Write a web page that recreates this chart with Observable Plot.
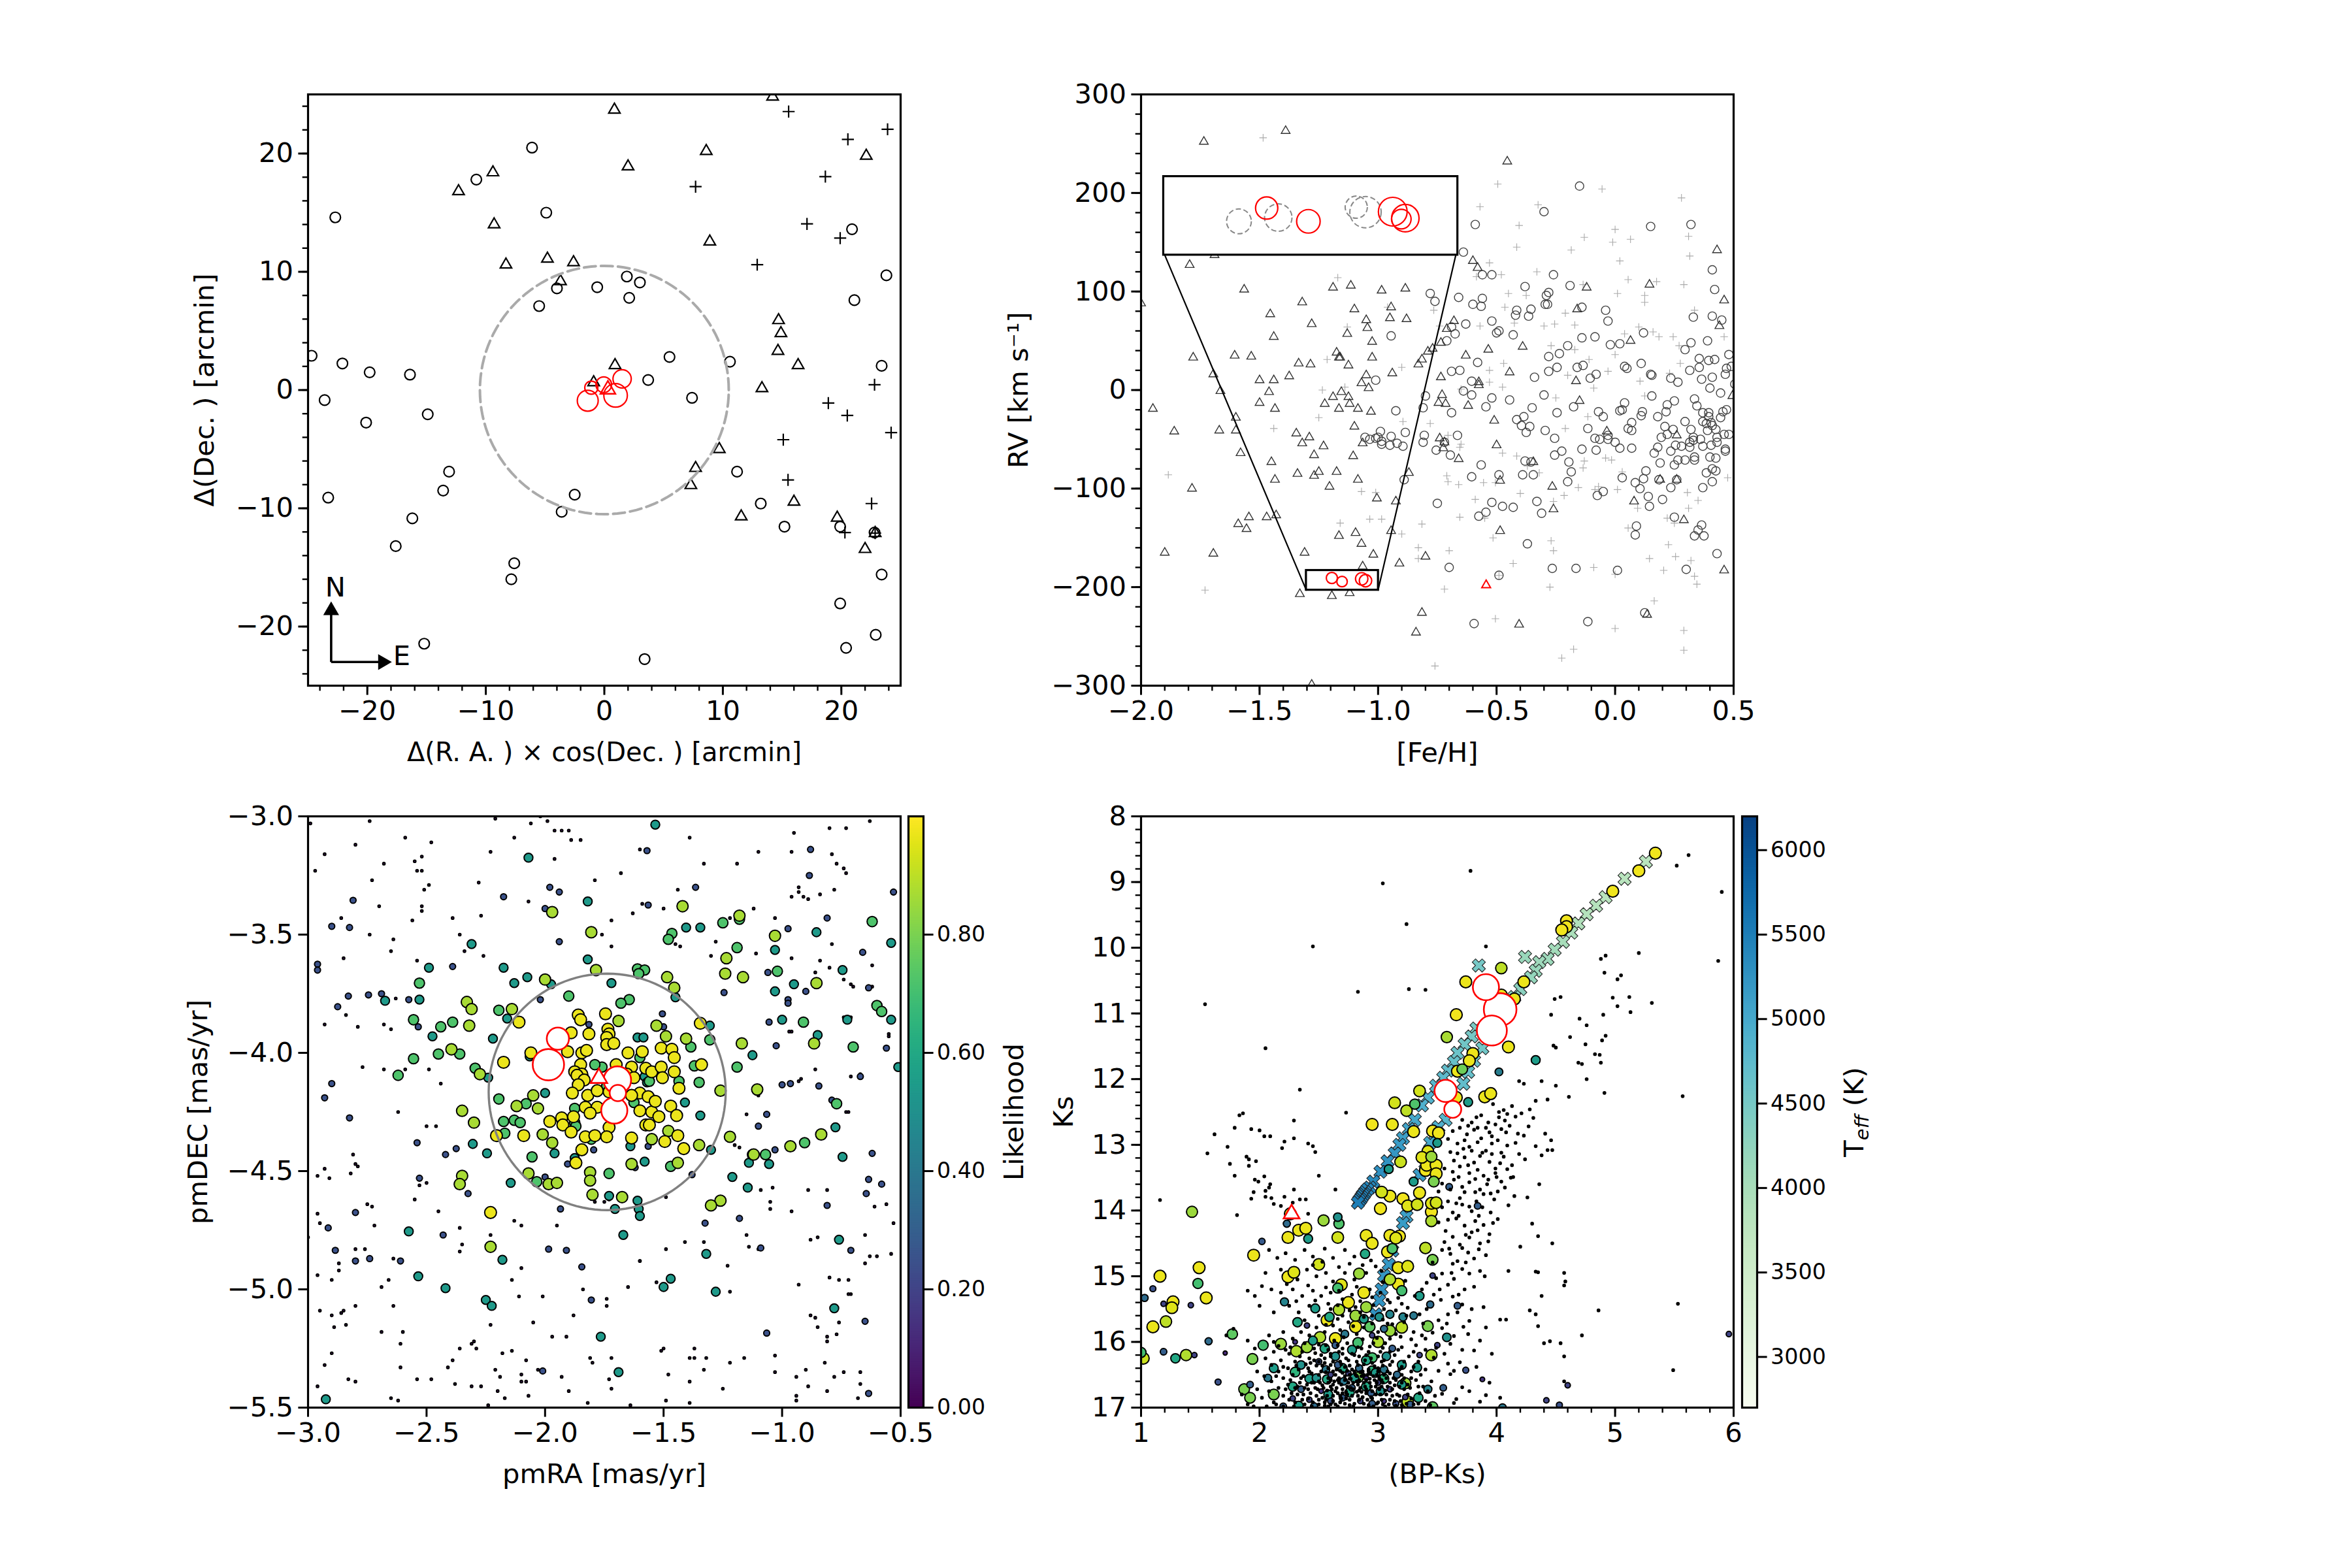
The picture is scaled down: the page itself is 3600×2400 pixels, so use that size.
<!DOCTYPE html><html><head><meta charset="utf-8">
<script src="https://cdn.jsdelivr.net/npm/d3@7"></script>
<script src="https://cdn.jsdelivr.net/npm/@observablehq/plot@0.6"></script>
<style>html,body{margin:0;background:#fff;width:3600px;height:2400px;position:relative;overflow:hidden}svg{position:absolute;overflow:visible}</style></head><body><script>
const pts=a=>{const o=[];for(let i=0;i+1<a.length;i+=2)o.push({x:a[i],y:a[i+1]});return o;};
const pts3=a=>{const o=[];for(let i=0;i+2<a.length;i+=3)o.push({x:a[i],y:a[i+1],l:a[i+2]});return o;};
const p1Circles=[-22.7,14.6,-6.1,20.5,-10.8,17.8,-4.9,15,20.9,13.6,23.8,9.7,21.1,7.6,1.9,9.6,3,9.1,2.1,7.8,-.6,8.7,-4,8.6,-5.5,7.1,5.5,2.8,10.6,2.4,23.4,2.05,-24.7,2.9,-22.1,2.25,-19.8,1.5,-16.4,1.3,3.7,.85,7.4,-.66,-23.6,-.85,-14.9,-2.05,-20.1,-2.75,-13.1,-6.9,11.2,-6.9,-13.6,-8.5,-23.3,-9.1,-2.5,-8.85,13.2,-9.6,-3.6,-10.3,-16.2,-10.85,-17.6,-13.2,15.2,-11.55,19.9,-11.55,22.8,-12.05,-7.6,-14.65,-7.85,-16,23.4,-15.6,19.9,-18.05,22.9,-20.7,-15.2,-21.45,20.4,-21.8,3.4,-22.75];
const p1Tri=[.85,23.7,14.2,24.8,8.6,20.2,22.1,19.8,2,18.9,-9.4,18.4,-12.3,16.8,-9.3,14,8.9,12.55,-8.3,10.6,-4.8,11.1,-2.6,10.8,-3.7,9.2,14.7,5.9,14.9,4.8,14.65,3.3,16.35,2.1,.9,2.1,-.9,.65,13.3,.15,9.7,-5,7.7,-6.6,7.3,-8.05,16,-9.45,11.55,-10.7,19.65,-10.8,22.85,-12.1,22,-13.45];
const p1Plus=[15.55,23.55,20.55,21.2,23.9,22.05,18.65,18.05,7.7,17.2,17.1,14.05,19.9,12.85,12.9,10.6,22.8,.45,18.9,-1.1,20.5,-2.15,24.2,-3.6,15.1,-4.2,15.5,-7.6,22.55,-9.6,20.3,-12.05,22.85,-12.1];
const p1Red=[-1.1,.2,-.05,.45,1.5,.95,.95,-.45,-1.4,-.9];const p1RedR=[10,12,14,18,16];const p1RedTri=[.3,.05];
const p2C=[-.15,207,-.3,181,-.59,168,.15,166,.32,168,-.64,140,.41,122,.42,102,-.26,117,-.56,117,-.52,117,-.38,105,-.19,106,-.78,98,-.76,90,-.66,94,-.56,93,-.6,87,-.565,85,-.28,99,-.29,96,-.295,87,-.285,87,-.14,84,-.355,82,-.415,81,-.42,76,-.365,75,-.04,81,-.03,70,.33,74,.41,75,.45,71,-.52,70,-.63,67,-.69,64,-.675,57,-.71,50,-.5,58,-.49,60,-.43,56,.12,58,-.14,53,-.085,54,-.2,45,-.02,46,.02,47,-.945,55,.32,48,.39,50,.295,41,-.235,37,-.28,34,.355,32,.395,30,.42,31,.48,36,-.58,28,.11,27,.04,24,.05,22,-.16,23,-.135,25,-.245,23,-.69,19,-.655,20,-.28,19,-.08,16,-.105,12,.15,16,.155,15,.355,23,.315,20,.465,16,.47,22,.49,24,-.34,13,.235,12,.265,8,.365,11,.41,13,.4,2,.505,6,-1.01,10,-.605,9,-.64,-1,-.605,-5,-.8,-6,-.52,-8,-.445,-10,-.3,-5,.445,-3,.155,-6,.335,-9,.25,-11,.04,-13,-.81,-18,-.925,-21,-.69,-23,-.545,-17,-.35,-18,-.175,-17,-.245,-23,.03,-20,.02,-21,-.07,-22,-.05,-27,.115,-22,.11,-26,.215,-22,.22,-15,.18,-27,.345,-16,.37,-23,.395,-23,.395,-27,.455,-22,.47,-20,.445,-28,-.415,-30,-.385,-27,-.395,-36,-.36,-37,-.375,-43,.07,-33,.055,-39,.07,-41,.295,-32,.37,-32,.405,-33,.385,-34,.41,-36,.39,-41,.425,-40,.21,-37,.245,-40,.32,-40,.22,-45,.195,-48,-.295,-41,-.115,-39,-.03,-46,-.03,-50,-.085,-49,-.065,-50,0,-53,.33,-48,.36,-50,.33,-51,.315,-53,.43,-53,.43,-48,.46,-45,.48,-45,-1.055,-48,-1.035,-50,-1.01,-49,-.99,-42,-1,-48,-.985,-52,-.985,-55,-.945,-47,-.95,-56,-.92,-54,-.895,-57,-.885,-43,-.805,-46,-.81,-53,-.665,-46,-.72,-53,-.755,-61,-.695,-66,-.255,-49,-.225,-62,-.255,-66,-.14,-60,-.08,-61,.02,-59,.07,-59,.18,-58,.235,-62,.255,-56,.28,-57,.315,-58,.335,-68,.335,-71,.37,-57,.405,-56,.4,-68,.425,-69,.465,-60,.465,-62,.165,-64,.19,-74,.25,-76,.265,-71,.295,-71,-.355,-73,-.38,-72,-.195,-73,-.185,-83,-.565,-76,-.49,-86,-.605,-88,-.89,-91,-.345,-86,-.39,-86,.03,-89,.13,-82,.12,-90,.185,-91,.085,-94,.105,-100,.26,-91,.235,-99,.41,-93,.41,-80,.425,-82,.385,-84,.37,-99,-.2,-93,-.05,-103,-.075,-107,.14,-108,.2,-111,.145,-118,-.75,-115,-.52,-114,-.33,-113,-.545,-124,-.575,-128,-.475,-118,-.43,-119,-.31,-125,.25,-129,.09,-138,.085,-147,.365,-137,.35,-142,.335,-148,.375,-148,-.37,-156,.43,-166,-.7,-180,-.265,-181,-.165,-181,.01,-183,.3,-182,-.49,-188,-.595,-237,-.115,-235,.125,-226];
const p2T=[-1.735,252,-1.39,263,-.455,232,.43,142,-1.69,137,-1.795,127,-.6,131,-.58,124,.145,107,-.12,104,-1.565,102,-1.19,104,-1.115,106,-.985,101,-.885,103,-2,88,-1.32,89,.46,91,-1.455,77,-1.1,82,-.945,84,-.95,73,-1.05,71,-.88,72,-.16,82,-1.28,67,-1.045,63,-.71,62,-.68,70,.44,65,-1.13,57,-1.44,54,-1.025,49,-.735,48,-.39,44,.065,50,-.535,41,-.79,39,-.77,42,-.815,31,-.83,26,-1.605,35,-1.535,34,-1.78,33,-1.175,38,-1.165,33,-1.16,33,-1.025,33,-1.335,27,-1.285,26,-1.125,25,-.63,35,-1.695,16,-1.375,14,-.94,17,-1.5,10,-1.44,10,-1.07,7,-1.05,15,-1.04,2,-.735,13,-.445,18,-.575,8,-.575,5,-.165,9,-1.665,-1,-1.46,-2,-1.155,-2,-1.19,-7,-1.125,-7,-.73,-5,.495,-6,-1.5,-13,-1.225,-14,-1.12,-14,-.745,-13,-.715,-14,-1.95,-19,-1.435,-19,-1.165,-19,-1.085,-19,-1.03,-22,-.62,-16,-.15,-11,-1.6,-28,-.51,-31,-1.1,-37,-1.86,-42,-1.67,-41,-1.6,-41,-1.345,-44,-1.29,-48,-.74,-49,-.035,-42,.26,-46,-1.32,-54,-1.065,-54,-.72,-53,-.725,-59,-1.23,-57,-1.58,-64,-1.27,-66,-1.105,-67,-.66,-70,-.5,-56,-.345,-73,-1.45,-73,-1.25,-83,-1.34,-85,-1.175,-83,-1.27,-87,-.87,-84,-1.435,-91,-1.085,-91,-.485,-92,.19,-91,.26,-91,-1.785,-100,-1.205,-98,-.265,-98,-1.005,-110,-.925,-113,.08,-113,-.26,-121,-1.43,-127,-1.545,-129,-1.47,-129,-1.59,-136,-1.555,-141,-.945,-143,-.485,-143,-1.095,-145,-1.165,-148,-1.07,-156,.29,-132,-1.9,-165,-1.695,-166,-1.31,-165,-1.02,-167,-.91,-176,-.8,-169,-1.065,-179,.46,-183,-1.33,-207,-1.195,-209,-1.12,-206,-.815,-226,-.405,-238,-.84,-246,.135,-228,-1.28,-299];
const p2P=[-1.485,256,-.495,209,-.055,204,-.57,186,-.325,188,.28,195,-.405,167,-.13,155,0,163,-.01,150,.065,153,.31,156,-.415,145,-.185,142,.315,136,-.53,129,.02,131,-.33,120,-.48,117,-.585,115,-1.17,114,-.135,107,.055,112,.175,110,.29,107,-.45,98,.01,98,-.375,96,.125,96,.125,89,-.465,84,-.21,78,-.96,84,.335,81,-.765,81,-.425,68,-.3,65,-.255,67,-.17,66,-.57,65,-.74,65,-1.13,64,.1,64,.16,59,.04,57,.185,54,.245,54,.46,54,-.27,45,-.17,41,.27,45,-1.215,31,-.11,31,0,36,.275,27,-.9,23,-.53,20,-.47,27,-.03,19,-.2,15,.105,9,.23,17,-.475,3,-.09,2,-.53,8,-1.235,0,-1.14,3,-.65,1,-.25,-8,.125,-6,-1.25,-28,-.78,-34,-1.44,-39,-.895,-32,-.21,-39,-.115,-27,-.705,-46,-.65,-55,-.655,-58,-.475,-64,-.415,-67,-.04,-69,-.015,-71,-.13,-72,-.135,-79,-1.885,-86,-.32,-84,-.37,-77,-.71,-87,-.705,-93,-.66,-96,-.555,-94,-.505,-94,.03,-83,.475,-89,-.085,-101,.01,-101,-.07,-98,-1.07,-103,-1.01,-104,-.4,-105,-.215,-107,-.155,-99,-.59,-111,-.26,-113,.095,-120,.305,-104,.31,-120,.35,-112,-.655,-129,-.55,-130,.22,-130,-1.035,-131,-.985,-131,-.815,-136,-1.16,-135,-.9,-146,.055,-140,.25,-135,-.515,-150,-.27,-153,.225,-157,-.83,-160,-.26,-163,-.7,-163,-.83,-171,.145,-171,.255,-169,-.43,-176,.32,-173,-.09,-180,.205,-183,0,-187,.335,-189,-.49,-188,.345,-197,-.72,-202,-.275,-200,-1.73,-203,.165,-214,-.505,-232,0,-242,.29,-244,-.76,-280,-.225,-272,-.175,-263,.29,-264];
const p2InR=[-1.47,184.7,-1.294,171.2,-.938,181,-.885,174.4,-.902,173.5];const p2InRr=[17,18,22,21,15];
const p2InG=[-1.587,171.2,-1.421,175,-1.092,185.6,-1.053,180.5];const p2InGr=[19,21,17,24];
const p2Sm=[-1.195,-190.7,-1.152,-194.4,-1.069,-191.6,-1.053,-193.5];const p2Smr=[8.5,8,9.5,9.5];const p2Tri=[-.544,-198];
const p3Yellow=[-1.86,-3.84,-1.85,-3.86,-1.745,-3.835,-1.815,-3.92,-1.735,-3.9,-1.73,-3.92,-1.74,-3.935,-1.74,-3.965,-1.71,-3.96,-1.89,-3.915,-1.905,-3.995,-1.845,-4,-1.825,-3.99,-2.06,-4,-1.59,-3.995,-1.65,-4,-1.51,-3.98,-1.465,-3.985,-1.455,-4.02,-1.34,-4.05,-1.575,-4.065,-1.55,-4.08,-1.51,-4.06,-1.505,-4.105,-1.455,-4.08,-1.7,-4.05,-1.635,-4.06,-1.85,-4.05,-1.875,-4.08,-1.845,-4.09,-1.865,-4.095,-1.835,-4.115,-1.86,-4.135,-1.655,-4.09,-1.625,-4.105,-1.435,-4.15,-1.885,-4.17,-1.82,-4.18,-1.78,-4.16,-1.73,-4.165,-1.6,-4.17,-1.565,-4.185,-1.635,-4.18,-1.83,-4.23,-1.78,-4.23,-1.81,-4.255,-1.735,-4.255,-1.6,-4.245,-1.55,-4.25,-1.535,-4.205,-1.47,-4.225,-1.52,-4.27,-1.445,-4.265,-1.93,-4.275,-1.88,-4.27,-1.98,-4.29,-1.925,-4.305,-1.575,-4.305,-1.56,-4.305,-1.73,-4.315,-1.89,-4.335,-1.635,-4.36,-1.74,-4.355,-1.83,-4.355,-1.79,-4.35,-2.09,-4.35,-1.44,-4.35,-1.495,-4.375,-1.415,-4.405,-1.845,-4.41,-1.87,-4.465,-2.205,-4.35,-2.11,-3.87,-2.175,-4.04,-1.345,-3.875,-2.23,-4.675];
const p3Lime=[-1.785,-3.65,-1.805,-3.49,-2,-3.69,-1.69,-3.865,-1.53,-3.885,-1.485,-3.68,-1.455,-3.725,-1.235,-3.6,-1.24,-3.665,-1.165,-3.68,-1.03,-3.505,-1.18,-3.42,-1.42,-3.38,-1.97,-3.405,-.855,-3.705,-.865,-3.96,-1.105,-4.155,-1.26,-4.16,-1.22,-4.355,-.965,-4.395,-.835,-4.345,-1.12,-4.43,-1.35,-4.39,-1.26,-4.625,-1.3,-4.645,-2.395,-3.985,-2.33,-3.785,-2.31,-3.815,-2.32,-3.885,-2.14,-3.815,-2.275,-4.09,-2.35,-4.245,-2.3,-4.295,-2.35,-4.52,-2.36,-4.555,-2.23,-4.82,-2.05,-4.18,-2.03,-4.235,-2.12,-4.225,-2.01,-4.345,-2.07,-4.51,-1.985,-4.555,-1.95,-4.55,-1.97,-4.38,-1.81,-4.505,-1.81,-4.54,-1.8,-4.6,-1.675,-4.61,-1.635,-4.47,-1.44,-4.465,-1.55,-4.365,-1.48,-4.33,-1.49,-3.93,-1.405,-3.94,-1.17,-3.96];
const p3Green=[-.62,-3.445,-.6,-3.8,-.58,-3.825,-1.02,-3.655,-.91,-3.87,-.7,-3.975,-.77,-4.215,-.905,-4.38,-1.07,-4.43,-1.125,-4.43,-1.19,-3.555,-1.25,-3.45,-1.18,-3.435,-1.465,-3.495,-1.48,-3.52,-1.61,-3.645,-1.58,-3.65,-1.605,-3.665,-1.645,-3.775,-1.68,-3.79,-1.9,-3.76,-2.195,-3.82,-2.295,-4.065,-2.45,-4.005,-2.555,-4.025,-2.44,-3.89,-2.39,-3.87,-2.555,-3.86,-2.53,-3.705,-2.36,-4.005,-2.62,-4.095,-2.08,-4.215,-2.13,-4.285,-2.105,-4.295,-2.175,-4.29,-2.17,-4.34,-2.035,-4.545,-2.055,-4.44,-1.875,-4.235,-1.875,-4.295,-1.87,-4.31,-1.805,-4.365,-1.73,-4.51,-1.625,-4.21,-1.56,-4.12,-1.435,-4.12,-1.35,-4.125,-1.385,-3.975,-1.305,-3.945,-1.37,-4.055,-1.47,-4.48,-2.195,-4.195,-1.19,-4.06,-1.76,-4.06,-1.79,-4.05,-1.84,-4.1,-1.74,-4.14,-1.6,-4.02];
const p3Teal=[-1.535,-3.035,-2.07,-3.175,-1.82,-3.36,-2.31,-3.54,-1.82,-3.605,-2.175,-3.64,-2.075,-3.68,-2.13,-3.705,-1.975,-3.71,-1.72,-3.705,-2.675,-3.78,-2.53,-3.775,-2.49,-3.64,-1.03,-3.565,-.95,-3.71,-1,-3.86,-1.03,-3.74,-1.125,-4.01,-.85,-3.925,-.725,-3.86,-.54,-3.86,-.51,-4.06,-.745,-3.65,-.855,-3.49,-.54,-3.535,-1.345,-3.47,-1.405,-3.47,-1.45,-3.765,-1.305,-3.885,-1.345,-4.265,-1.41,-4.21,-1.61,-3.935,-1.585,-3.935,-1.58,-4.1,-1.57,-4.125,-2.16,-3.855,-2.22,-3.94,-2.475,-3.93,-2.24,-4.105,-2,-4.17,-2.065,-4.015,-2.305,-4.385,-2.145,-4.55,-2.245,-4.425,-1.96,-4.425,-1.875,-4.445,-1.73,-4.605,-1.705,-4.66,-1.61,-4.625,-1.605,-4.66,-1.6,-4.69,-1.67,-4.77,-1.58,-4.46,-1.64,-4.395,-1.3,-4.41,-1.32,-4.85,-.76,-4.79,-.745,-4.44,-.775,-4.315,-1.14,-4.465,-1.055,-4.47,-1.145,-4.57,-1.21,-4.525,-2.575,-4.755,-2.535,-4.945,-2.42,-4.995,-2.25,-5.045,-2.225,-5.07,-2.18,-4.875,-.78,-5.08,-2.925,-5.465,-1.69,-5.35,-1.765,-5.2,-1.28,-5.01,-1.47,-4.955,-1.5,-4.99];
const p3Blue=[-2.9,-3.465,-2.825,-3.47,-2.81,-3.355,-2.96,-3.625,-2.96,-3.65,-2.83,-3.76,-2.745,-3.755,-2.69,-3.75,-2.875,-3.805,-2.535,-3.89,-2.575,-3.775,-2.39,-3.635,-2.175,-3.34,-1.94,-3.32,-1.98,-3.3,-2,-3.39,-1.565,-3.375,-1.57,-3.145,-1.365,-3.3,-.885,-3.25,-.88,-3.14,-.53,-3.32,-.975,-3.475,-.81,-3.43,-.66,-3.575,-1.06,-3.66,-.9,-3.74,-.975,-3.775,-.975,-3.79,-1.245,-3.745,-.635,-3.725,-1.055,-3.87,-.56,-3.98,-1.025,-3.97,-.67,-4.1,-1,-4.135,-.965,-4.13,-.845,-4.14,-.79,-4.2,-1.065,-4.26,-1.1,-4.31,-1.03,-4.41,-1.05,-4.47,-.62,-4.425,-.635,-4.535,-.645,-4.595,-.58,-4.555,-.81,-4.645,-.71,-4.835,-1.09,-4.825,-.65,-5.135,-1.065,-5.185,-.635,-5.44,-2.01,-5.345,-2.8,-4.675,-2.915,-4.74,-2.885,-4.835,-2.8,-4.88,-2.61,-4.88,-2.74,-4.87,-2.825,-4.275,-2.93,-4.19,-2.9,-4.13,-2.54,-4.38,-2.42,-4.43,-2.375,-4.405,-2.53,-4.53,-2.325,-4.595,-2.43,-4.77,-1.91,-4.835,-1.985,-4.83,-1.845,-4.905,-1.805,-5.045,-1.935,-4.66,-1.795,-4.41,-1.905,-4.47,-2,-4.525,-2.02,-3.775,-1.94,-3.53,-1.505,-3.835,-1.5,-3.89,-1.815,-3.88,-1.62,-4.485,-1.565,-4.395,-1.38,-4.515,-1.325,-4.72,-1.18,-4.7];
const p3Tiny=[-2.99,-3.03,-2.74,-3.02,-2.59,-3.09,-2.8,-3.12,-2.48,-3.11,-2.68,-3.2,-2.93,-3.16,-2.97,-3.23,-2.52,-3.17,-2.55,-3.19,-2.54,-3.23,-2.52,-3.23,-2.73,-3.27,-2.49,-3.29,-2.51,-3.31,-2.28,-3.28,-2.23,-3.15,-2.21,-3.01,-2.13,-3.09,-2.06,-3.03,-2.02,-3,-1.99,-3.02,-1.96,-3.06,-1.93,-3.06,-1.9,-3.06,-1.89,-3.1,-1.85,-3.1,-1.96,-3.18,-1.79,-3.27,-1.68,-3.24,-1.6,-3.14,-1.39,-3.09,-1.33,-3.2,-1.1,-3.15,-1.19,-3.2,-.95,-3.07,-.8,-3.05,-.73,-3.05,-.63,-3.02,-.79,-3.16,-.77,-3.2,-.74,-3.22,-.73,-3.24,-.96,-3.15,-.93,-3.3,-.93,-3.32,-.91,-3.34,-.96,-3.34,-.84,-3.33,-.78,-3.31,-1.12,-3.39,-1.22,-3.43,-1.72,-3.44,-1.63,-3.41,-1.59,-3.37,-1.5,-3.39,-1.44,-3.31,-.89,-3.35,-2.86,-3.43,-2.7,-3.38,-2.52,-3.38,-2.52,-3.4,-2.39,-3.43,-2.56,-3.44,-2.27,-3.42,-2.07,-3.36,-2.36,-3.5,-2.64,-3.52,-2.74,-3.5,-2.65,-3.57,-2.85,-3.6,-2.54,-3.61,-2.34,-3.57,-2.26,-3.59,-1.76,-3.5,-1.72,-3.55,-1.45,-3.54,-1.43,-3.55,-1.28,-3.53,-1.22,-3.6,-1.3,-3.59,-1.11,-3.58,-1.03,-3.43,-.96,-3.6,-.84,-3.61,-.79,-3.54,-.62,-3.63,-.8,-3.64,-.86,-3.66,-.74,-3.69,-.71,-3.71,-.7,-3.72,-2.63,-3.77,-2.77,-4.06,-2.68,-4.07,-2.93,-3.88,-2.79,-3.89,-2.68,-3.88,-2.65,-3.9,-2.84,-3.84,-2.49,-4.07,-2.59,-4.07,-2.44,-4.13,-2.62,-4.25,-2.5,-4.31,-2.46,-4.31,-2.81,-4.43,-2.8,-4.47,-2.79,-4.48,-2.96,-4.52,-2.91,-4.53,-2.93,-4.49,-2.82,-4.51,-2.55,-4.62,-2.53,-4.56,-2.5,-4.55,-2.96,-4.68,-2.95,-4.72,-2.72,-4.73,-2.75,-4.64,-2.73,-4.65,-3,-4.78,-2.8,-4.83,-2.76,-4.83,-2.64,-4.87,-2.87,-4.89,-2.87,-4.92,-2.96,-4.94,-2.66,-4.96,-2.69,-4.99,-2.9,-4.96,-2.25,-5.04,-2.14,-4.96,-2.1,-4.91,-2.64,-5.07,-2.8,-5.07,-2.95,-5.09,-2.9,-5.11,-2.85,-5.09,-2.86,-5.1,-2.89,-5.16,-2.84,-5.15,-2.69,-5.18,-2.6,-5.18,-2.61,-5.23,-2.9,-5.27,-2.93,-5.32,-2.61,-5.33,-2.41,-5.33,-2.39,-5.3,-2.3,-5.22,-2.31,-5.23,-2.29,-5.25,-2.36,-5.25,-2.21,-5.34,-2.54,-5.38,-2.48,-5.38,-2.83,-5.38,-2.8,-5.39,-2.96,-5.41,-2.65,-5.46,-2.62,-5.47,-2.38,-5.4,-2.31,-5.41,-2.27,-5.41,-2.24,-5.49,-2.2,-5.43,-2.17,-5.46,-2.1,-5.36,-2.1,-5.39,-2.08,-5.39,-2.07,-5.45,-2.19,-5.37,-1.9,-5.43,-1.81,-5.29,-1.8,-5.31,-1.72,-5.29,-1.82,-5.48,-1.73,-5.38,-1.72,-5.42,-1.64,-5.49,-1.49,-5.47,-1.39,-5.39,-1.39,-5.48,-1.25,-5.42,-1.39,-5.29,-1.37,-5.25,-1.32,-5.29,-1.33,-5.34,-1.22,-5.31,-1.16,-5.29,-1.03,-5.28,-1.03,-5.35,-.9,-5.34,-.94,-5.37,-.89,-5.41,-.82,-5.31,-.81,-5.43,-.78,-5.37,-.94,-5.45,-.94,-5.47,-.67,-5.4,-.68,-5.46,-.74,-5.35,-.67,-5.35,-.81,-5.2,-.81,-5.22,-.76,-5.14,-.77,-5.19,-.85,-5.16,-.86,-5.12,-.88,-5.11,-.6,-4.86,-.54,-4.85,-.65,-4.89,-.72,-4.96,-.76,-4.96,-.8,-4.95,-.71,-5.02,-.72,-5.02,-.93,-4.98,-.65,-4.77,-.88,-4.79,-.85,-4.78,-.96,-4.67,-1.05,-4.63,-1.09,-4.58,-1.04,-4.57,-.89,-4.58,-.81,-4.58,-.53,-4.72,-.56,-4.64,-.61,-4.65,-.63,-4.86,-.62,-3.72,-.54,-3.87,-.55,-3.92,-.55,-3.93,-.74,-3.85,-.71,-3.85,-.93,-4.12,-.92,-4.11,-.86,-4.07,-.73,-4.25,-.72,-4.25,-.67,-4.09,-.71,-4.1,-1.1,-4.18,-1.15,-4.26,-.96,-3.91,-.9,-3.87,-.97,-3.91,-1.18,-4.4,-1.2,-4.39,-1.14,-4.82,-1.1,-4.83,-1.05,-4.66,-1.15,-4.77,-1.23,-4.9,-1.22,-5.01,-1.33,-4.8,-1.41,-4.8,-1.49,-4.83,-1.6,-4.88,-1.49,-4.61,-1.73,-4.62,-1.75,-4.63,-1.79,-4.63,-1.95,-4.73,-2.1,-4.73,-2.13,-4.71,-2.35,-4.81,-2.36,-4.74,-2.45,-4.67,-2.36,-4.84,-2.23,-4.77,-2.11,-5.03,-2.05,-5.14,-2.23,-5.15,-2.18,-5.27,-2.14,-5.26,-2.08,-5.3,-2.03,-5.34,-1.93,-5.37,-1.84,-5,-1.74,-5.04,-1.74,-5.07,-1.88,-5.11,-2.01,-5.03,-1.91,-5.2,-1.97,-5.2,-1.6,-4.88,-1.65,-4.99,-1.53,-4.97,-1.5,-5.25,-1.51,-5.26,-1.37,-5.29,-1.48,-5.36];
const p3Red=[-1.946,-3.94,-1.986,-4.05,-1.695,-4.115,-1.693,-4.17,-1.708,-4.244];const p3Redr=[17,24,21,12.5,20];
const p4=[3.88,16.57,.15,3.74,16.43,.25,1.65,16.61,.25,4.6,16.66,.2,4.42,16.89,.2,4.53,16.96,.25,4.05,17,.4,3.44,15.43,.35,3.46,14.99,.2,3.67,15.45,.3,2.07,16.55,.4,1.92,16.65,.3,1.71,16.17,.12,1.03,15.33,.35,1.1,15.19,.25,1.19,15.42,.2,1.42,15.44,.2,1.57,15.99,.35,1.19,16.15,.3,1.45,16.2,.2,2.02,14.47,.28,2.23,14.2,.35,3.84,13.93,.3,3.6,13.64,.3,5.96,15.88,.2,2.5,16.3,.25,2.56,16.42,.4,2.6,16.5,.2,2.66,16.35,.3,2.71,16.6,.4,2.75,16.48,.2,2.78,16.7,.3,2.84,16.4,.35,2.9,16.55,.15,2.94,16.78,.3,3,16.62,.2,3.05,16.42,.4,3.1,16.72,.2,3.16,16.5,.35,3.23,16.84,.2,2.35,16.72,.3,2.42,16.88,.2,2.46,16.98,.35,2.52,16.75,.15,2.6,16.9,.25,2.7,16.85,.3,2.85,16.9,.2,2.95,16.94,.3,3.05,16.9,.15,3.15,16.94,.25,2.2,16.98,.3,2.28,16.86,.2,2.64,16.05,.3,2.72,15.88,.4,3.05,15.8,.35,3.12,16.1,.3,3.35,16.2,.2,3.3,15.6,.4,3.5,16.05,.2,3.55,16.7,.3,2.95,15.9,.2,2.4,15.75,.2,2.3,16.0,.15,3.27,16.95,.3,
3.1,15.58,.45,2.45,15.98,.55,2.55,16.1,.6,2.64,16.22,.5,2.78,16.12,.55,2.9,16.28,.6,2.98,16.47,.55,3.07,16.22,.5,3.2,16.35,.55,2.48,16.55,.5,2.7,16.4,.6,2.8,16.55,.55,2.9,16.68,.6,3.02,16.75,.5,3.2,16.65,.55,2.58,16.8,.55,2.76,16.77,.6,2.95,16.44,.65,2.35,16.35,.5,3.42,16.72,.45,2.21,15.39,.45,3.21,15.62,.45,3.01,15.62,.5,2.47,15.49,.55,2.59,15.62,.6,3.09,13.37,.55,3.3,13.56,.55,3.5,12.97,.55,3.76,12.35,.55,4.33,11.71,.55,4.02,11.89,.42,2.41,14.43,.55,2.66,14.1,.5,3.35,15.3,.55,2.88,15.65,.55,3.58,15.93,.5,2.32,15.7,.6,2.12,16.4,.55,2.42,16.56,.55,2.57,16.57,.6,2.28,16.68,.6,3.34,16.85,.6,2.33,16.97,.55,3.33,16.39,.55,2.89,14.66,.6,1.29,16.25,.6,2.3,16.46,.65,3.05,16.56,.65,
5.34,8.56,.98,5.2,8.83,.98,4.98,9.14,.98,4.59,9.59,.98,4.59,9.68,.98,4.55,9.73,.98,4.04,10.31,.9,3.74,10.52,.97,4.23,10.52,.97,4.15,10.78,.97,4.04,10.72,.97,3.66,11.02,.98,3.58,11.36,.87,4.1,11.51,.97,3.8,11.61,.97,3.77,11.72,.97,3.67,11.88,.97,3.71,11.85,.78,3.35,12.18,.93,3.14,12.36,.93,3.31,12.38,.72,3.24,12.48,.9,3.66,12.28,.97,3.9,12.27,.97,3.95,12.22,.97,2.95,12.69,.98,3.12,12.69,.97,3.3,12.8,.97,3.46,12.79,.98,3.51,12.82,.98,3.42,13.1,.95,3.37,13.19,.95,3.45,13.18,.85,3.41,13.31,.97,3.4,13.39,.98,3.49,13.31,.97,3.49,13.44,.97,3.19,13.26,.92,3.47,13.56,.8,3.35,13.73,.97,3.03,13.72,.93,3.1,13.78,.97,3.21,13.82,.98,3.25,13.93,.95,3.33,13.91,.93,3.49,13.88,.93,3.45,13.89,.95,3.45,14.02,.98,3.45,14.16,.88,3.02,13.97,.98,2.9,14.38,.97,2.95,14.5,.97,3.1,14.38,.97,3.15,14.42,.95,3.18,14.39,.98,3.4,14.57,.9,3.08,14.63,.97,3.12,14.58,.72,3.46,14.75,.8,3.17,14.87,.97,3.25,14.85,.95,2.84,14.96,.85,3.1,15.05,.88,3.17,15.12,.97,3.2,15.22,.7,2.88,15.25,.97,2.69,15.13,.95,2.66,15.18,.7,2.75,15.4,.97,2.9,15.47,.85,2.67,15.51,.88,3.42,15.76,.8,3.1,15.83,.85,3.2,15.78,.9,2.81,15.6,.85,2.81,15.77,.97,2.93,15.77,.75,2.57,15.67,.97,3.45,16.2,.88,1.77,15.88,.75,2.03,16.05,.7,2.18,16.03,.85,2.4,16.08,.85,2.31,16.14,.88,1.94,16.26,.8,2.51,15.93,.88,2.64,15.95,.97,2.83,16.01,.7,3,16,.88,1.87,16.72,.8,1.92,16.85,.8,2.12,16.8,.8,3.23,16.63,.85,3.25,16.91,.9,3.46,16.99,.75,2.95,16.24,.7,2.83,16.54,.8,1.43,14.02,.85,2.26,14.05,.97,2.24,14.41,.97,2.33,14.3,.97,2.39,14.27,.97,2.54,14.15,.85,2.67,14.2,.72,2.66,14.41,.93,1.95,14.68,.97,2.5,14.82,.93,2.24,15.01,.97,2.29,14.94,.95,1.16,15,.97,1.49,14.87,.97,1.48,15.11,.7,1.55,15.33,.97,1.27,15.39,.97,1.26,15.48,.95,1.21,15.69,.9,1.1,15.77,.97,1.38,16.2,.88,1.02,16.25,.92,1,16.16,.7];
const p4TinyA=[3.78,8.83,3.04,9.02,3.24,9.64,2.45,9.98,3.91,9.98,5.62,8.59,5.52,8.75,5.9,9.15,5.2,10.08,5.87,10.2,4.88,10.17,4.92,10.12,4.91,10.38,5.05,10.42,5.02,10.48,2.83,10.67,3.26,10.63,3.4,10.64,1.54,10.86,4.54,10.75,4.49,10.78,4.98,10.76,5.12,10.75,5.02,10.89,5.31,10.84,5.13,10.98,4.9,11.02,4.46,11.02,4.7,11.08,4.76,11.18,4.48,11.49,4.5,11.52,2.05,11.53,4.62,11.36,4.92,11.34,4.89,11.41,4.75,11.47,4.83,11.62,4.87,11.63,4.69,11.75,4.72,11.77,4.88,11.75,4.76,12,4.91,12.21,5.57,12.26,4.61,12.27,4.5,12.1,4.38,12.03,4.23,12.07,4.19,12.03,4.43,12.31,4.33,12.33,2.34,12.16,2.73,12.51,2.29,12.63,1.86,12.52,1.83,12.55,1.79,12.74,1.93,12.76,2,12.78,2.04,12.87,2.09,12.87,1.62,12.84,2.29,12.9,2.21,12.95,2.41,12.98,2.45,13.02,1.56,13.13,2.19,13.05,2.47,13.11,1.73,13.03,1.89,13.18,1.91,13.22,1.75,13.29,1.97,13.25,1.79,13.47,1.96,13.53,2.04,13.48,1.99,13.56,1.91,13.32,2.09,13.6,2.08,13.65,2.05,13.7,1.95,13.72,1.93,13.82,1.16,13.84,2.05,13.79,2.1,13.81,2.21,13.79,2.29,13.68,2.12,13.9,2.18,13.93,2.34,13.83,2.39,13.83,1.81,14.07,2.5,13.47,2.64,13.68,2.41,14.05,2.28,13.88,5.49,16.43,5.53,15.42,4.86,15.52,4.72,15.9,4.4,16.02,4.54,16.02,4.57,16.22,4.45,15.99,4.35,15.76,4.28,15.52,4.33,15.58,4.08,15.66,4.03,15.66,4.57,16.6,4.35,14.94,4.33,14.93,4.58,15.08,4.57,15.14,4.38,15.3,4.47,14.5,4.35,14.39,4.57,14.95,4.36,13.6,4.47,13.08,4.43,13.08,4.26,13.8,4.3,14.2,4.15,13.78,4.1,13.92,4.2,14.55,3.9,15,4.1,14.92];
const p4TinyField=[3.97,12.38,4.06,12.47,4.13,12.41,4.21,12.52,4.28,12.46,4.31,12.59,4.02,12.58,3.87,12.55,3.93,12.66,4.07,12.63,4.16,12.57,4.27,12.72,4.41,12.83,4.46,12.93,3.71,12.62,3.79,12.66,3.83,12.58,3.91,12.74,3.99,12.69,4.04,12.76,4.11,12.71,4.18,12.83,3.63,12.79,3.69,12.74,3.75,12.84,3.81,12.77,3.87,12.9,3.94,12.81,4.01,12.93,4.08,12.81,4.16,12.97,4.23,12.86,4.33,13.02,3.59,12.91,3.67,12.98,3.73,12.93,3.77,13.03,3.84,12.96,3.91,13.09,3.96,12.98,4.04,13.12,4.09,13.01,4.19,13.14,4.24,13.22,4.38,13.16,3.61,13.11,3.64,13.24,3.73,13.19,3.81,13.27,3.86,13.17,3.94,13.26,3.99,13.36,4.06,13.18,4.13,13.31,4.14,13.49,3.56,13.36,3.63,13.41,3.69,13.33,3.77,13.43,3.84,13.38,3.89,13.47,3.99,13.43,4.04,13.56,4.12,13.5,3.54,13.59,3.64,13.53,3.71,13.64,3.77,13.57,3.86,13.68,3.92,13.6,4.01,13.71,4.07,13.65,3.51,13.71,3.59,13.86,3.69,13.81,3.73,13.72,3.83,13.86,3.89,13.75,3.98,13.83,3.54,13.95,3.63,14.03,3.71,13.91,3.79,14.01,3.85,14.08,3.95,14.03,4.01,14.13,3.51,14.18,3.57,14.31,3.66,14.12,3.73,14.23,3.79,14.33,3.89,14.22,3.94,14.36,3.56,14.48,3.63,14.4,3.69,14.52,3.77,14.41,3.86,14.5,3.93,14.47,3.54,14.6,3.61,14.66,3.67,14.77,3.76,14.64,3.81,14.73,3.91,14.68,3.46,14.79,3.54,14.96,3.63,14.81,3.71,14.89,3.77,14.96,3.86,14.92,3.41,15.1,3.49,15.03,3.59,15.13,3.64,15.04,3.73,15.2,3.81,15.16,3.37,15.2,3.47,15.28,3.53,15.36,3.63,15.31,3.71,15.43,3.79,15.5,3.89,15.47,3.41,15.5,3.51,15.67,3.59,15.58,3.67,15.55,3.77,15.68,3.91,15.78,3.46,15.86,3.54,15.79,3.64,15.91,3.76,15.88,3.86,15.98,3.49,16.09,3.61,16.03,3.71,16.12,3.81,16.13,3.96,16.18,3.47,16.24,3.59,16.33,3.69,16.31,3.83,16.38,3.51,16.44,3.61,16.49,3.71,16.69,3.94,16.62,3.54,16.79,3.66,16.87,3.77,16.75,3.91,16.81,4.03,16.85,3.64,16.93,3.86,16.91,
4.02,12.5,4.09,12.53,3.76,12.71,3.84,12.74,3.96,12.87,3.88,13.12,3.79,13.09,3.72,13.06,3.67,13.13,3.96,13.14,4.03,13.28,4.09,13.37,3.76,13.31,3.68,13.49,3.82,13.52,3.93,13.53,4,13.49,3.61,13.68,3.82,13.72,3.95,13.74,3.66,13.89,3.77,13.94,3.88,13.95,3.68,14.08,3.82,14.16,3.97,14.19,3.59,14.14,3.74,14.37,3.84,14.3,3.6,14.58,3.71,14.57,3.85,14.59,3.62,14.95,3.74,14.79,3.52,15.2,3.68,15.28,3.58,15.72,3.72,15.77,3.4,15.95,3.56,16.18,3.64,16.44];
const p4TinyDense=[2.08,14.6,2.15,14.72,2.22,14.65,2.3,14.75,2.38,14.6,2.45,14.7,2.55,14.58,2.62,14.72,2.72,14.6,2.8,14.7,2.05,14.95,2.18,14.9,2.32,15.05,2.4,14.9,2.48,15,2.56,14.95,2.62,15.08,2.72,14.95,2.8,15.05,2.9,14.95,2.98,14.85,1.9,15.22,1.96,15.3,2.02,15.15,2.1,15.2,2.18,15.25,2.28,15.2,2.36,15.3,2.45,15.22,2.52,15.3,2.6,15.25,2.7,15.35,2.78,15.28,2.85,15.38,2.95,15.32,3.02,15.25,3.1,15.4,2,15.45,2.12,15.55,2.25,15.45,2.33,15.55,2.42,15.45,2.5,15.6,2.6,15.5,2.7,15.6,2.76,15.52,2.85,15.55,2.95,15.6,3.05,15.5,3.15,15.52,3.25,15.48,1.72,15.9,1.78,15.8,1.9,15.98,1.96,16.1,2.08,15.9,2.12,16.0,2.2,15.85,2.28,15.95,2.35,15.85,2.42,15.9,2.48,15.78,2.55,15.85,2.62,15.75,2.68,15.82,2.75,15.7,2.82,15.88,2.88,15.78,2.95,15.72,3,15.85,3.08,15.72,3.15,15.88,3.22,15.7,3.3,15.85,3.38,15.72,
2.05,16.25,2.12,16.15,2.18,16.28,2.25,16.18,2.3,16.3,2.36,16.15,2.42,16.25,2.46,16.1,2.52,16.2,2.56,16.05,2.6,16.18,2.66,16.05,2.7,16.18,2.74,16.02,2.8,16.2,2.86,16.1,2.92,16.15,2.96,16.02,3.02,16.15,3.06,16.02,3.14,16.2,3.2,16.08,3.26,16.22,3.32,16.05,3.4,16.12,
1.98,16.45,2.04,16.52,2.1,16.6,2.16,16.45,2.2,16.55,2.24,16.4,2.28,16.5,2.33,16.42,2.37,16.52,2.41,16.4,2.44,16.48,2.48,16.36,2.52,16.45,2.55,16.32,2.58,16.4,2.62,16.3,2.65,16.42,2.68,16.3,2.72,16.38,2.75,16.28,2.78,16.42,2.82,16.3,2.85,16.46,2.88,16.34,2.92,16.42,2.95,16.32,3,16.4,3.03,16.3,3.08,16.45,3.12,16.3,3.18,16.42,3.22,16.3,3.28,16.45,3.34,16.3,3.4,16.42,
1.85,16.8,1.9,16.95,1.98,16.72,2.02,16.85,2.08,16.75,2.12,16.92,2.16,16.7,2.2,16.82,2.24,16.65,2.27,16.78,2.3,16.92,2.34,16.62,2.37,16.8,2.4,16.65,2.43,16.78,2.46,16.62,2.49,16.72,2.51,16.62,2.54,16.7,2.56,16.88,2.58,16.62,2.61,16.72,2.63,16.6,2.65,16.7,2.67,16.55,2.69,16.65,2.72,16.52,2.74,16.68,2.76,16.56,2.79,16.62,2.81,16.5,2.83,16.65,2.86,16.52,2.88,16.62,2.91,16.5,2.93,16.62,2.96,16.52,2.98,16.68,3.01,16.55,3.03,16.68,3.07,16.55,3.1,16.62,3.13,16.55,3.18,16.68,3.22,16.55,3.27,16.7,3.32,16.58,3.38,16.68,3.45,16.6,
1.95,16.98,2.06,16.98,2.14,16.95,2.2,16.98,2.25,16.88,2.32,16.8,2.38,16.95,2.41,16.86,2.45,16.92,2.48,16.82,2.5,16.95,2.53,16.85,2.55,16.97,2.57,16.82,2.6,16.95,2.62,16.82,2.64,16.95,2.66,16.78,2.68,16.92,2.7,16.78,2.72,16.94,2.74,16.8,2.76,16.96,2.78,16.82,2.8,16.94,2.82,16.76,2.84,16.88,2.86,16.76,2.88,16.94,2.9,16.78,2.92,16.96,2.94,16.84,2.96,16.98,2.98,16.8,3,16.92,3.02,16.8,3.04,16.95,3.07,16.8,3.09,16.95,3.12,16.82,3.15,16.97,3.18,16.82,3.2,16.96,3.25,16.8,3.3,16.95,3.35,16.78,3.4,16.9,3.48,16.82,
2.58,16.55,2.62,16.45,2.66,16.58,2.7,16.47,2.74,16.44,2.77,16.56,2.8,16.45,2.84,16.58,2.87,16.45,2.9,16.58,2.93,16.47,2.97,16.58,3,16.45,3.03,16.58,2.5,16.6,2.44,16.62,2.38,16.7,2.3,16.7,2.62,16.65,2.68,16.82,2.73,16.76,2.79,16.72,2.85,16.7,2.9,16.72,2.95,16.75,3.01,16.72,3.06,16.74,3.12,16.72,3.16,16.8,3.22,16.72,
2.6,16.22,2.67,16.15,2.73,16.25,2.78,16.18,2.84,16.22,2.9,16.2,2.94,16.25,3,16.22,3.05,16.28,3.1,16.15,2.55,16.25,2.5,16.3,2.43,16.32,
2.45,14.83,2.53,14.78,2.67,14.86,2.76,14.81,2.87,14.83,2.94,14.76,3.03,14.92,2.23,15.12,2.41,15.14,2.56,15.17,2.67,15.22,2.82,15.16,2.93,15.2,3.04,15.09,3.17,15.33,3.23,15.07,2.31,15.38,2.47,15.37,2.58,15.42,2.66,15.44,2.81,15.47,2.96,15.44,3.08,15.36,3.2,15.42,3.31,15.3,2.38,15.67,2.56,15.74,2.66,15.65,2.79,15.76,2.88,15.62,3.04,15.66,3.12,15.73,3.24,15.6,3.35,15.58,2.16,16.06,2.26,16.08,2.38,16.02,2.5,16.04,2.63,15.98,2.71,15.93,2.87,15.96,2.99,15.94,3.1,15.95,3.19,15.92,3.28,15.96,3.37,15.9,2.22,16.12,2.34,16.22,2.47,16.17,2.58,16.12,2.7,16.1,2.83,16.08,2.93,16.07,3.04,16.09,3.17,16.12,3.3,16.15,2.1,16.35,2.2,16.38,2.31,16.36,2.39,16.34,2.46,16.28,2.53,16.36,2.6,16.35,2.69,16.34,2.76,16.36,2.83,16.35,2.89,16.28,2.97,16.37,3.04,16.36,3.1,16.35,3.2,16.38,3.3,16.38,2.14,16.52,2.26,16.58,2.35,16.55,2.42,16.45,2.5,16.5,2.56,16.46,2.6,16.58,2.64,16.5,2.68,16.44,2.72,16.58,2.76,16.5,2.82,16.52,2.88,16.5,2.93,16.56,2.99,16.5,3.05,16.5,3.1,16.48,3.15,16.58,3.2,16.5,3.28,16.55,3.36,16.5,2.22,16.72,2.32,16.68,2.41,16.72,2.47,16.7,2.53,16.66,2.57,16.74,2.6,16.68,2.64,16.75,2.67,16.62,2.7,16.72,2.75,16.62,2.77,16.7,2.82,16.6,2.84,16.74,2.89,16.68,2.94,16.68,2.99,16.62,3.04,16.62,3.08,16.68,3.14,16.66,3.2,16.62,3.25,16.65,3.34,16.68,3.42,16.75,2.29,16.98,2.36,16.88,2.44,16.98,2.5,16.88,2.55,16.92,2.58,16.98,2.62,16.9,2.66,16.98,2.69,16.86,2.73,16.86,2.76,16.88,2.79,16.98,2.83,16.82,2.87,16.84,2.91,16.88,2.95,16.86,2.99,16.94,3.03,16.88,3.06,16.98,3.1,16.88,3.14,16.9,3.19,16.9,3.24,16.94,3.28,16.86,3.34,16.94,3.44,16.96];
const p4Teff=[5.26,8.69,3800,5.08,8.95,3800,4.92,9.23,3800,4.84,9.36,3850,4.76,9.49,3850,4.69,9.63,3900,4.63,9.77,3950,4.56,9.91,4000,4.49,10.03,4050,4.43,10.17,4100,4.36,10.22,4100,4.24,10.14,4150,4.33,10.35,4150,4.29,10.45,4200,4.2,10.63,4300,4.15,10.75,4300,3.85,10.27,4500,3.83,11.23,4450,3.79,11.35,4500,3.73,11.47,4550,3.67,11.6,4600,3.64,11.74,4650,3.59,11.87,4700,3.55,11.98,4750,3.49,12.1,4800,3.42,12.28,4850,3.37,12.4,4900,3.31,12.62,5000,3.26,12.76,5050,3.21,12.9,5100,3.18,13,5150,3.14,13.13,5200,3.08,13.25,5250,3.02,13.41,5300,2.96,13.56,5350,2.93,13.65,5400,2.91,13.68,5400,2.89,13.72,5400,2.88,13.75,5450,2.87,13.77,5450,2.86,13.8,5450,2.85,13.83,5500,2.84,13.85,5500,2.83,13.88,5500,3.88,11.53,4550,3.81,11.72,4600,3.76,11.89,4650,3.72,12.07,4700,3.57,12.62,4800,3.51,12.73,4900,3.47,12.87,4950,3.44,12.97,5000,3.4,13.28,5100,3.35,13.46,5150,3.24,14.09,5100,3.21,14.19,5150,3.12,14.61,5200,3.09,14.82,5200,3.05,14.99,5200,3.03,15.2,5250,3.01,15.37,5250,2.98,15.58,5250];
const p4Red=[3.91,10.6,4.03,10.94,3.96,11.26,3.57,12.18,3.63,12.46];const p4Redr=[20,25,23,17,13];
const circle=(c,d,r)=>d3.range(0,361,3).map(a=>({x:c+r*Math.cos(a*Math.PI/180),y:d+r*Math.sin(a*Math.PI/180)}));
const F=41.67,BK="#000";
const FX=[471,1746],FY=[144,1249],W=907,H=905,ML=240,MR=50,MT=30,MB=150;
function frameAxes(o){return [
 Plot.axisX({ticks:o.xt,tickSize:14.6,tickPadding:8,fontSize:F,strokeWidth:3,tickFormat:o.xf,label:null}),
 ...(o.xm?[Plot.axisX({ticks:o.xm,tickSize:8.3,tickFormat:()=>"",strokeWidth:2.4,label:null})]:[]),
 Plot.axisY({ticks:o.yt,tickSize:14.6,tickPadding:8,fontSize:F,strokeWidth:3,tickFormat:o.yf,label:null}),
 ...(o.ym?[Plot.axisY({ticks:o.ym,tickSize:8.3,tickFormat:()=>"",strokeWidth:2.4,label:null})]:[]),
 Plot.frame({stroke:BK,strokeWidth:3.2}),
 Plot.text([o.xl],{text:d=>d,frameAnchor:"bottom",dy:o.xly,fontSize:o.xfs||F,lineAnchor:"middle"}),
 Plot.text([o.yl],{text:d=>d,frameAnchor:"left",textAnchor:"middle",dx:o.ylx,rotate:-90,fontSize:F,lineAnchor:"middle"})
];}
function put(svg,col,row){svg.style.left=(FX[col]-ML)+"px";svg.style.top=(FY[row]-MT)+"px";document.body.appendChild(svg);return svg;}
const base=o=>({width:W+ML+MR,height:H+MT+MB,marginLeft:ML,marginRight:MR,marginTop:MT,marginBottom:MB,style:{background:"transparent",fontFamily:"DejaVu Sans",color:"#000",overflow:"visible"},...o});
const cp={clip:"frame"};
put(Plot.plot(base({x:{domain:[-25,25]},y:{domain:[-25,25]},marks:[
 Plot.dot(pts(p1Circles),{x:"x",y:"y",r:8,stroke:BK,strokeWidth:2.2,...cp}),
 Plot.dot(pts(p1Tri),{x:"x",y:"y",symbol:"triangle",r:6.5,stroke:BK,strokeWidth:2.2,...cp}),
 Plot.dot(pts(p1Plus),{x:"x",y:"y",symbol:"plus",r:6,stroke:BK,strokeWidth:2.2,...cp}),
 Plot.line(circle(0,0,10.5),{x:"x",y:"y",stroke:"#aaa",strokeWidth:4,strokeDasharray:"18,8"}),
 Plot.dot(pts(p1Red),{x:"x",y:"y",r:{value:(d,i)=>p1RedR[i],scale:null},stroke:"red",strokeWidth:2.2}),
 Plot.dot(pts(p1RedTri),{x:"x",y:"y",symbol:"triangle",r:8.5,stroke:"red",strokeWidth:2.4}),
 Plot.link([{x1:-23.05,y1:-23,x2:-23.05,y2:-18.6},{x1:-23.05,y1:-23,x2:-18.6,y2:-23}],{x1:"x1",y1:"y1",x2:"x2",y2:"y2",stroke:BK,strokeWidth:3.6}),
 Plot.dot([{x:-23.05,y:-18.65}],{x:"x",y:"y",symbol:"triangle",r:9,fill:BK}),
 Plot.dot([{x:-18.7,y:-23}],{x:"x",y:"y",symbol:"triangle",r:9,fill:BK,rotate:90}),
 Plot.text(["N"],{x:[-22.7],y:[-16.7],fontSize:F}),Plot.text(["E"],{x:[-17.1],y:[-22.5],fontSize:F}),
 ...frameAxes({xt:[-20,-10,0,10,20],xm:d3.range(-24,25,2),yt:[-20,-10,0,10,20],ym:d3.range(-24,25,2),xl:"Δ(R. A. ) × cos(Dec. ) [arcmin]",xfs:40,yl:"Δ(Dec. ) [arcmin]",xly:103,ylx:-158})
]})),0,0);
put(Plot.plot(base({x:{domain:[-2,.5]},y:{domain:[-300,300]},marks:[
 Plot.dot(pts(p2P),{x:"x",y:"y",symbol:"plus",r:3.8,stroke:"#aaa",strokeWidth:1.1,...cp}),
 Plot.dot(pts(p2C),{x:"x",y:"y",r:6.5,stroke:"#444",strokeWidth:1.4,...cp}),
 Plot.dot(pts(p2T),{x:"x",y:"y",symbol:"triangle",r:5,stroke:"#333",strokeWidth:1.4,...cp}),
 Plot.line([{x:-1.9,y:137},{x:-1.303,y:-203}],{x:"x",y:"y",stroke:BK,strokeWidth:2.2}),
 Plot.line([{x:-.672,y:137},{x:-1,y:-203}],{x:"x",y:"y",stroke:BK,strokeWidth:2.2}),
 Plot.rect([{a:-1.905,b:-.664,c:137,d:216.7}],{x1:"a",x2:"b",y1:"c",y2:"d",fill:"#fff",stroke:BK,strokeWidth:3.2}),
 Plot.rect([{a:-1.303,b:-.999,c:-203,d:-183}],{x1:"a",x2:"b",y1:"c",y2:"d",fill:"#fff",stroke:BK,strokeWidth:3.2}),
 Plot.dot(pts(p2InG),{x:"x",y:"y",r:{value:(d,i)=>p2InGr[i],scale:null},stroke:"#888",strokeWidth:2,strokeDasharray:"8,4"}),
 Plot.dot(pts(p2InR),{x:"x",y:"y",r:{value:(d,i)=>p2InRr[i],scale:null},stroke:"red",strokeWidth:2.2}),
 Plot.dot(pts(p2Sm),{x:"x",y:"y",r:{value:(d,i)=>p2Smr[i],scale:null},stroke:"red",strokeWidth:2.2}),
 Plot.dot(pts(p2Tri),{x:"x",y:"y",symbol:"triangle",r:5,stroke:"red",strokeWidth:2}),
 ...frameAxes({xt:[-2,-1.5,-1,-.5,0,.5],xm:d3.range(-2,.51,.1),xf:d3.format(".1f"),yt:d3.range(-300,301,100),ym:d3.range(-300,301,20),xl:"[Fe/H]",yl:"RV [km s⁻¹]",xly:103,ylx:-187})
]})),1,0);
const rS={type:"sqrt",domain:[0,1],range:[0,9.2]};
const group=(a,l)=>pts(a).map(d=>({...d,l}));
const dotsL=(d)=>Plot.dot(d,{x:"x",y:"y",r:"l",fill:"l",stroke:BK,strokeWidth:2,...cp});
put(Plot.plot(base({x:{domain:[-3,-.5]},y:{domain:[-5.5,-3]},r:rS,color:{type:"linear",scheme:"viridis",domain:[0,1]},marks:[
 dotsL(group(p3Tiny,.04)),dotsL(group(p3Blue,.25)),dotsL(group(p3Teal,.54)),dotsL(group(p3Green,.72)),dotsL(group(p3Lime,.87)),dotsL(group(p3Yellow,.97)),
 Plot.line(circle(-1.738,-4.165,.5),{x:"x",y:"y",stroke:"#808080",strokeWidth:3.4}),
 Plot.dot(pts(p3Red),{x:"x",y:"y",r:{value:(d,i)=>p3Redr[i],scale:null},fill:"#fff",stroke:"red",strokeWidth:2.6}),
 Plot.dot([{x:-1.773,y:-4.107}],{x:"x",y:"y",symbol:"triangle",r:9.5,fill:"#fff",stroke:"red",strokeWidth:2.6}),
 ...frameAxes({xt:[-3,-2.5,-2,-1.5,-1,-.5],xf:d3.format(".1f"),yt:[-5.5,-5,-4.5,-4,-3.5,-3],yf:d3.format(".1f"),xl:"pmRA [mas/yr]",yl:"pmDEC [mas/yr]",xly:102,ylx:-168})
]})),0,1);
const vir=d3.interpolateViridis;
const tiny=[...p4TinyA,...p4TinyField,...p4TinyDense];
put(Plot.plot(base({x:{domain:[1,6]},y:{domain:[8,17],reverse:true},r:rS,color:{type:"linear",scheme:"gnbu",domain:[2700,6200]},marks:[
 Plot.dot(pts3(p4Teff),{x:"x",y:"y",symbol:"cross",rotate:45,r:9,fill:"l",stroke:"#222",strokeWidth:1.1,...cp}),
 Plot.dot(pts3(p4),{x:"x",y:"y",r:"l",fill:d=>vir(d.l),stroke:BK,strokeWidth:2,...cp}),
 Plot.dot(pts(tiny),{x:"x",y:"y",r:()=>.04,fill:BK,stroke:BK,strokeWidth:2,...cp}),
 Plot.dot(pts(p4Red),{x:"x",y:"y",r:{value:(d,i)=>p4Redr[i],scale:null},fill:"#fff",stroke:"red",strokeWidth:2.6}),
 Plot.dot([{x:2.27,y:14.05}],{x:"x",y:"y",symbol:"triangle",r:9,fill:"#fff",stroke:"red",strokeWidth:2.6}),
 ...frameAxes({xt:[1,2,3,4,5,6],xf:d3.format("d"),xm:d3.range(1,6.01,.2),yt:[8,9,10,11,12,13,14,15,16,17],yf:d3.format("d"),ym:d3.range(8,17.01,.2),xl:"(BP-Ks)",yl:"Ks",xly:102,ylx:-118})
]})),1,1);
function cbar(left,top,dom,scheme,ticks,fmt,label,lx){
 const n=256,ML2=10,CW=23;
 const strip=d3.range(n).map(i=>({a:dom[0]+(dom[1]-dom[0])*i/n,b:dom[0]+(dom[1]-dom[0])*(i+1.5)/n}));
 const s=Plot.plot({width:ML2+CW+220,height:H+MT+MB,marginLeft:ML2,marginRight:220,marginTop:MT,marginBottom:MB,
  x:{domain:[0,1],axis:null},y:{domain:dom},color:{type:"linear",scheme,domain:dom},
  style:{background:"transparent",fontFamily:"DejaVu Sans",color:"#000",overflow:"visible"},
  marks:[Plot.rect(strip,{x1:()=>0,x2:()=>1,y1:"a",y2:d=>Math.min(d.b,dom[1]),fill:"a"}),
   Plot.axisY({anchor:"right",ticks,tickSize:14.6,tickPadding:6,fontSize:33.3,strokeWidth:3,tickFormat:fmt,label:null}),
   Plot.frame({stroke:BK,strokeWidth:3.2}),
   Plot.text([label],{text:d=>d,frameAnchor:"right",textAnchor:"middle",dx:lx,rotate:-90,fontSize:F,lineAnchor:"middle"})]});
 s.style.left=(left-ML2)+"px";s.style.top=(top-MT)+"px";document.body.appendChild(s);return s;
}
cbar(1390,1249,[0,1],"viridis",[0,.2,.4,.6,.8],d3.format(".2f"),"Likelihood",139);
const tb=cbar(2666,1249,[2700,6200],"gnbu",[3000,3500,4000,4500,5000,5500,6000],d3.format("d"),"Teff (K)",149);
tb.querySelectorAll("text").forEach(t=>{if(t.textContent==="Teff (K)"){t.textContent="";const a=(s,e)=>{const n=document.createElementNS("http://www.w3.org/2000/svg","tspan");n.textContent=s;Object.entries(e).forEach(([k,v])=>n.setAttribute(k,v));t.appendChild(n);};a("T",{});a("eff",{"font-style":"italic","font-size":"29","dy":"8"});a(" (K)",{"dy":"-8"});}});
</script></body></html>
